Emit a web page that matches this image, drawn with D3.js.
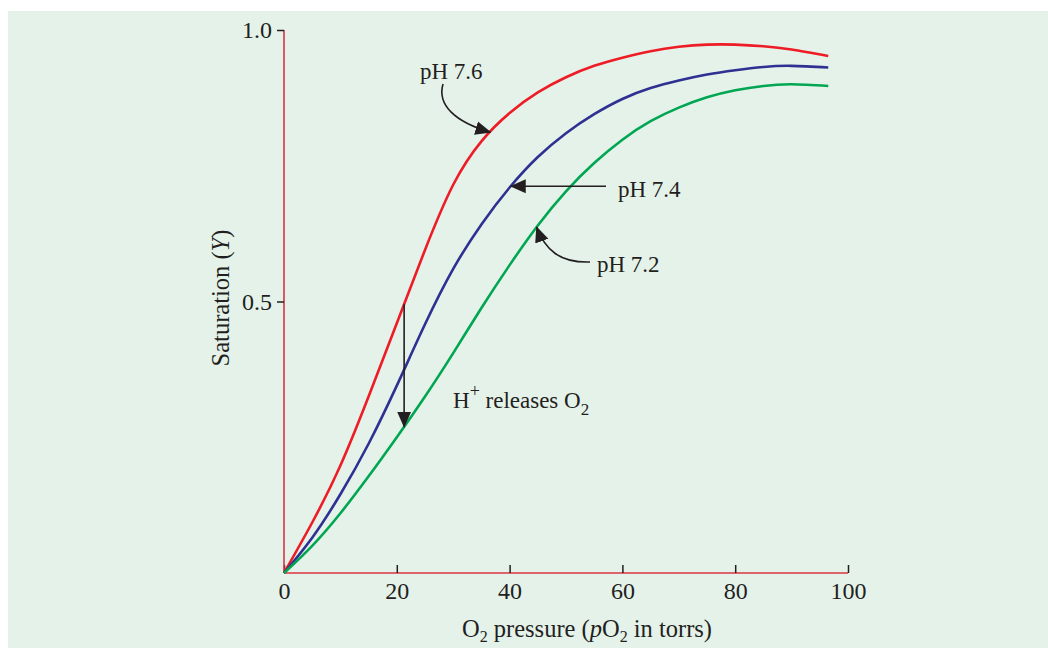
<!DOCTYPE html>
<html><head><meta charset="utf-8">
<script src="https://cdn.jsdelivr.net/npm/d3@7"></script>
<style>
body{margin:0;background:#fff;}
svg{display:block;}
text{font-family:"Liberation Serif","Times New Roman",serif;fill:#231f20;}
</style>
</head><body>
<svg id="c" width="1048" height="648"></svg>
<script>
// ---- data ----
const pO2 = [0,5,10,15,20,25,30,35,40,45,50,55,60,65,70,75,80,85,90,96.5];
const satPH76 = [0,0.093,0.198,0.325,0.46,0.595,0.715,0.795,0.847,0.885,0.913,0.934,0.949,0.961,0.969,0.973,0.973,0.970,0.964,0.952];
const satPH74 = [0,0.065,0.145,0.238,0.345,0.458,0.56,0.642,0.71,0.766,0.81,0.845,0.873,0.893,0.907,0.918,0.926,0.932,0.934,0.931];
const satPH72 = [0,0.05,0.11,0.178,0.25,0.325,0.405,0.488,0.567,0.64,0.703,0.755,0.798,0.832,0.857,0.876,0.889,0.897,0.90,0.897];
const seriesNames = ["pH 7.6","pH 7.4","pH 7.2"];
const seriesColors = ["#ee1c25","#2e3192","#00a651"];
const xTicks = [0,20,40,60,80,100];
const yTicks = [0.5,1.0];
const yTickLabels = ["0.5","1.0"];

const svg = d3.select("#c");
svg.append("rect").attr("x",8).attr("y",11).attr("width",1040).attr("height",637).attr("fill","#e5f2ea");

const x = d3.scaleLinear().domain([0,100]).range([284,848]);
const y = d3.scaleLinear().domain([0,1]).range([573,30]);

// arrowhead
svg.append("defs").append("marker")
  .attr("id","ah").attr("markerUnits","userSpaceOnUse")
  .attr("viewBox","0 -8 16 16").attr("refX",15).attr("refY",0)
  .attr("markerWidth",16).attr("markerHeight",16).attr("orient","auto")
  .append("path").attr("d","M0,-7L16,0L0,7Z").attr("fill","#231f20");

// axes
const gx = svg.append("g").attr("transform",`translate(0,${y(0)})`)
  .call(d3.axisBottom(x).tickValues(xTicks).tickSize(-8).tickPadding(9).tickFormat(d3.format("d")));
gx.select(".domain").attr("stroke","#d9343f").attr("stroke-width",1.6).attr("d",`M${x(0)},0H${x(100)}`);
gx.selectAll(".tick line").attr("stroke","#231f20").attr("stroke-width",1.5);
gx.selectAll(".tick text").attr("font-size",24).attr("font-family","Liberation Serif").attr("fill","#231f20").attr("dy","0.71em");

const gy = svg.append("g").attr("transform",`translate(${x(0)},0)`)
  .call(d3.axisLeft(y).tickValues(yTicks).tickSize(7).tickPadding(5).tickFormat((d,i)=>yTickLabels[i]));
gy.select(".domain").attr("stroke","#d9343f").attr("stroke-width",1.6).attr("d",`M0,${y(0)}V${y(1)}`);
gy.selectAll(".tick line").attr("stroke","#231f20").attr("stroke-width",1.5);
gy.selectAll(".tick text").attr("font-size",24).attr("font-family","Liberation Serif").attr("fill","#231f20");

// curves
const series = [satPH76, satPH74, satPH72];
const line = d3.line().x((d,i)=>x(pO2[i])).y(d=>y(d)).curve(d3.curveNatural);
series.forEach((s,k)=>{
  svg.append("path").datum(s).attr("d",line).attr("fill","none")
    .attr("stroke",seriesColors[k]).attr("stroke-width",2.6);
});

function interp(s,xv){
  const i = d3.bisectRight(pO2,xv)-1;
  const t = (xv-pO2[i])/(pO2[i+1]-pO2[i]);
  return s[i]+(s[i+1]-s[i])*t;
}

// annotations
const ink = "#231f20";
const ann = svg.append("g").attr("fill","none").attr("stroke",ink).attr("stroke-width",1.6);

{
  const tx = x(36.6), ty = y(interp(satPH76,36.6));
  ann.append("path").attr("d",`M443,84 C437,105 455,122 ${tx},${ty}`).attr("marker-end","url(#ah)");
}
{
  const tx = x(40.2), ty = y(interp(satPH74,40.2));
  ann.append("path").attr("d",`M606,${ty}H${tx}`).attr("marker-end","url(#ah)");
}
{
  const tx = x(44.8), ty = y(interp(satPH72,44.8));
  ann.append("path").attr("d",`M590,262 C560,263 545,250 ${tx},${ty}`).attr("marker-end","url(#ah)");
}
{
  const xv = 21.3;
  ann.append("path").attr("d",`M${x(xv)},${y(interp(satPH76,xv))}V${y(interp(satPH72,xv))}`).attr("marker-end","url(#ah)");
}

const fs = 23;
svg.append("text").attr("x",420).attr("y",79).attr("font-size",fs).text(seriesNames[0]);
svg.append("text").attr("x",618).attr("y",197).attr("font-size",fs).text(seriesNames[1]);
svg.append("text").attr("x",597).attr("y",272).attr("font-size",fs).text(seriesNames[2]);

const h = svg.append("text").attr("x",453).attr("y",408).attr("font-size",fs);
h.append("tspan").text("H");
h.append("tspan").attr("dy",-11).attr("font-size",18).text("+");
h.append("tspan").attr("dy",11).text(" releases O");
h.append("tspan").attr("dy",7).attr("font-size",17).text("2");

// axis titles
const yl = svg.append("text").attr("transform","translate(229,298) rotate(-90)").attr("text-anchor","middle").attr("font-size",24.5);
yl.append("tspan").text("Saturation (");
yl.append("tspan").attr("font-style","italic").text("Y");
yl.append("tspan").text(")");

const xl = svg.append("text").attr("x",587).attr("y",637).attr("text-anchor","middle").attr("font-size",24.5);
xl.append("tspan").text("O");
xl.append("tspan").attr("dy",5).attr("font-size",16).text("2");
xl.append("tspan").attr("dy",-5).text(" pressure (");
xl.append("tspan").attr("font-style","italic").text("p");
xl.append("tspan").text("O");
xl.append("tspan").attr("dy",5).attr("font-size",16).text("2");
xl.append("tspan").attr("dy",-5).text(" in torrs)");
</script>
</body></html>
